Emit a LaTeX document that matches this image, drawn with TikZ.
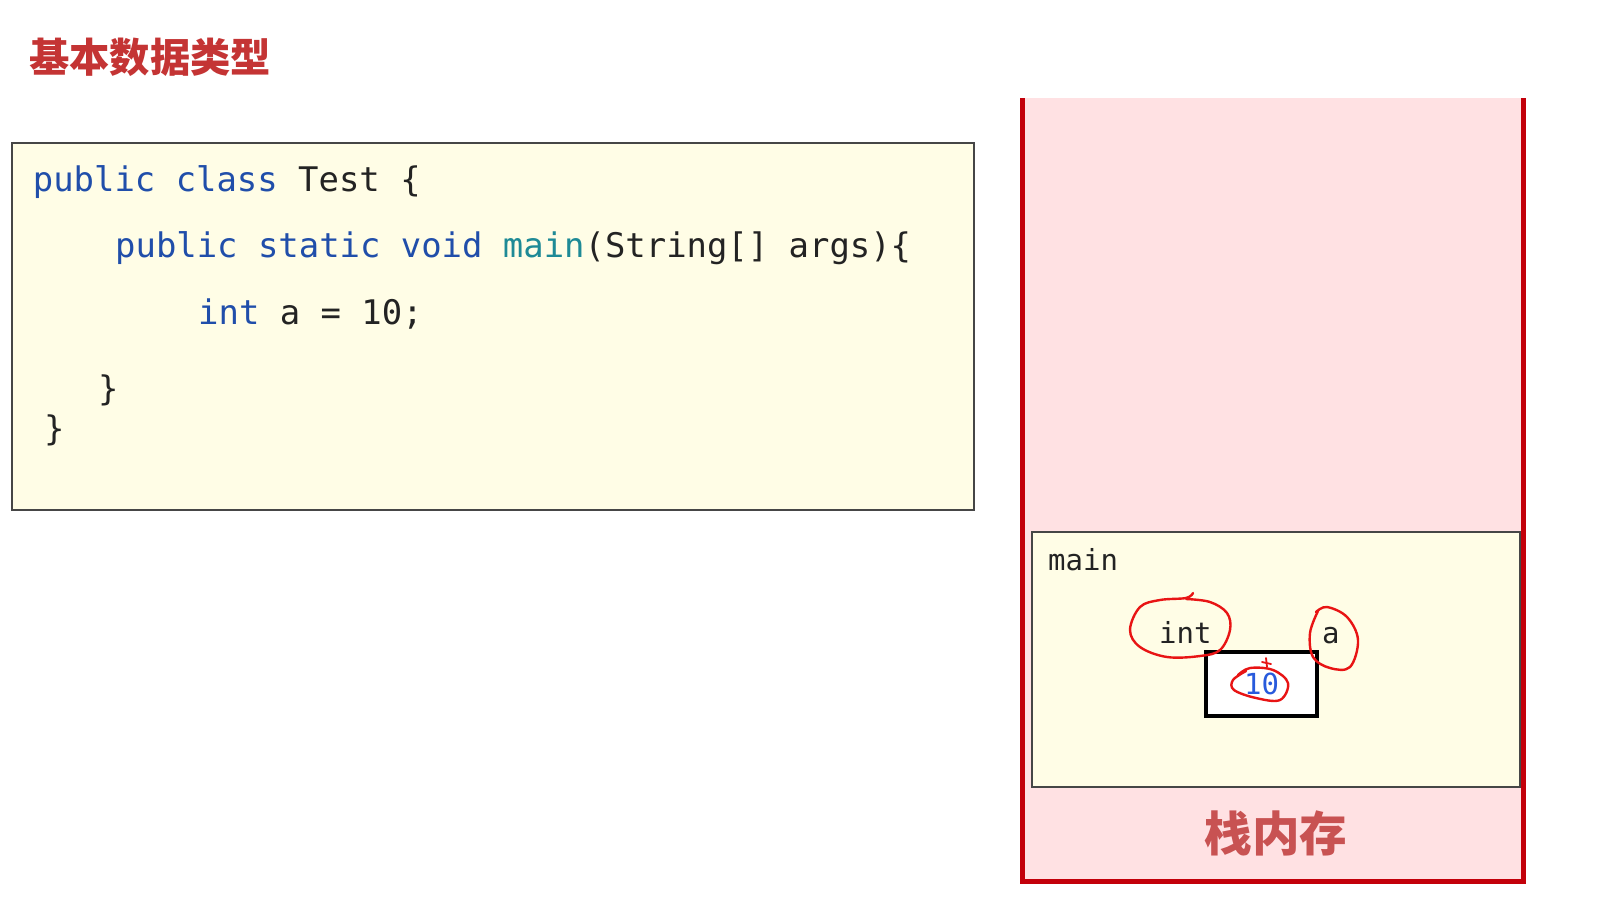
\documentclass[tikz,border=0pt]{standalone}
\usepackage{fontspec}
\setmonofont{DejaVu Sans Mono}
\newfontfamily\cjk{Noto Sans CJK SC}
\definecolor{kw}{RGB}{32,78,170}
\definecolor{fn}{RGB}{30,138,150}
\definecolor{txt}{RGB}{35,35,35}
\definecolor{codebg}{RGB}{255,253,230}
\definecolor{stackbg}{RGB}{255,225,227}
\definecolor{stackline}{RGB}{195,0,10}
\definecolor{titlered}{RGB}{196,52,52}
\definecolor{stacktxt}{RGB}{200,82,82}
\definecolor{num}{RGB}{40,90,220}
\definecolor{pen}{RGB}{232,20,20}
\definecolor{framegray}{RGB}{70,70,70}
\tikzset{
  codeline/.style={anchor=base west, inner sep=0pt, font=\ttfamily\fontsize{33.9}{40}\selectfont, text=txt},
  smallcode/.style={anchor=base west, inner sep=0pt, font=\ttfamily\fontsize{29}{34}\selectfont, text=txt},
  scribble/.style={draw=pen, line width=2.4pt, line cap=round, line join=round},
}
\begin{document}
\begin{tikzpicture}[x=1pt,y=-1pt]
\useasboundingbox (0,0) rectangle (1622,906);
\fill[white] (0,0) rectangle (1622,906);
% title
\node[inner sep=0pt, anchor=center, text=titlered, font=\cjk\bfseries\fontsize{40.3}{44}\selectfont] (title) at (150,57) {基本数据类型};
% code box
\draw[fill=codebg, draw=framegray, line width=2pt] (11.7,142.7) rectangle (974,510);
\node[codeline] (l1) at (32.7,191.7) {\textcolor{kw}{public class} Test \{};
\node[codeline] (l2) at (115,257.3) {\textcolor{kw}{public static void} \textcolor{fn}{main}(String[] args)\{};
\node[codeline] (l3) at (198,324.3) {\textcolor{kw}{int} a = 10;};
\node[codeline] (l4) at (98,400) {\}};
\node[codeline] (l5) at (44,440) {\}};
% stack
\fill[stackbg] (1022,98) rectangle (1523,881);
\draw[stackline, line width=5pt] (1022,98) -- (1022,881) -- (1523,881) -- (1523,98);
\draw[fill=codebg, draw=framegray, line width=2pt] (1032,531.7) rectangle (1519.5,787);
\node[smallcode] (mainlbl) at (1048,570) {main};
\node[smallcode] (intlbl) at (1159,643) {int};
\node[smallcode] (albl) at (1322,643) {a};
\node[draw=black, fill=white, line width=3.5pt, minimum width=111pt, minimum height=64pt, inner sep=0pt] (valbox) at (1261.5,684) {};
\node[inner sep=0pt, anchor=center, text=num, font=\ttfamily\fontsize{29}{34}\selectfont] (val) at (valbox.center) {10};
\node[inner sep=0pt, anchor=center, text=stacktxt, font=\cjk\bfseries\fontsize{47.6}{52}\selectfont] (stacklbl) at (1276,833) {栈内存};
% hand-drawn marks
\draw[scribble] plot[smooth, tension=0.6] coordinates {(1193,593) (1186,598) (1160,600) (1140,607) (1130,630) (1140,647) (1167,657) (1200,656) (1220,650) (1230,630) (1227,613) (1210,602) (1186,599)};
\draw[scribble] plot[smooth, tension=0.6] coordinates {(1316,612) (1327,607) (1347,617) (1358,640) (1350,667) (1330,668) (1313,657) (1310,633) (1318,611)};
\draw[scribble] plot[smooth, tension=0.6] coordinates {(1238,675) (1250,668) (1273,670) (1288,683) (1280,700) (1256,698) (1234,690) (1233,680) (1246,671)};
\draw[scribble, line width=1.8pt] (1262,662) -- (1271,664);
\draw[scribble, line width=1.8pt] (1266,658) -- (1267,667);
\end{tikzpicture}
\end{document}
